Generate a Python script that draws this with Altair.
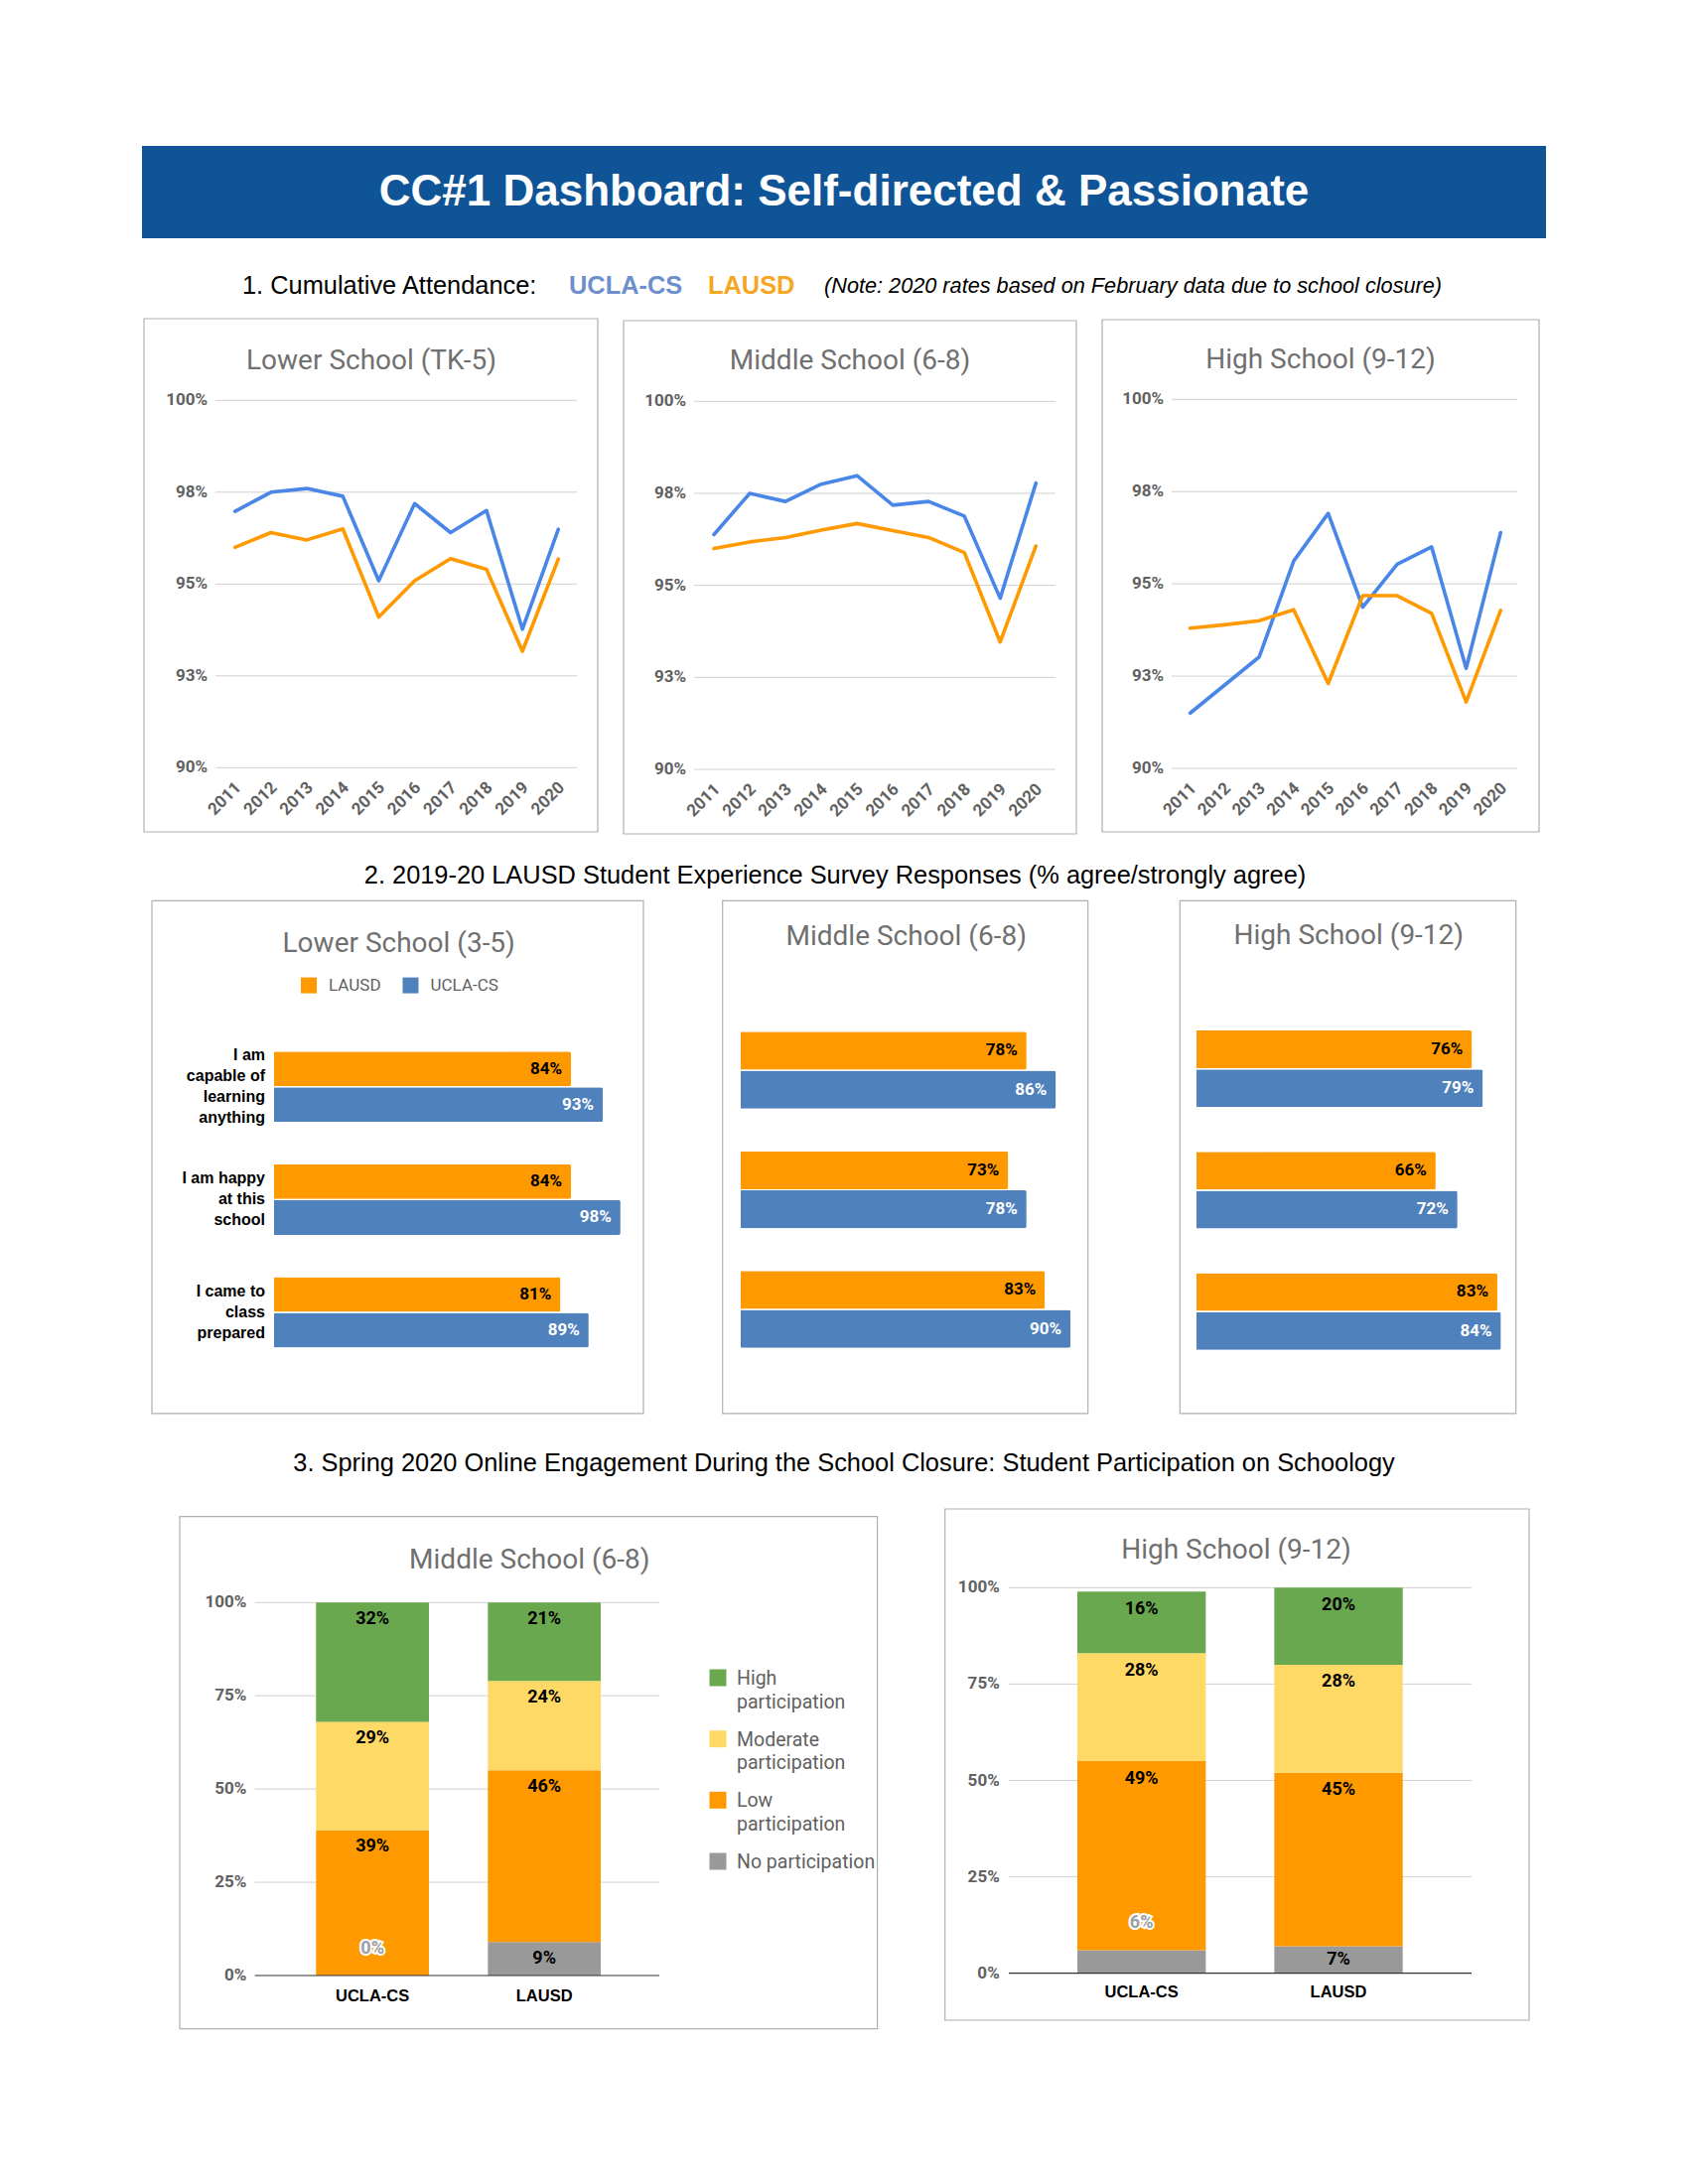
import textwrap
import altair as alt
import pandas as pd

# ---------------- data ----------------
YEARS = [2011, 2012, 2013, 2014, 2015, 2016, 2017, 2018, 2019, 2020]
LOWER_UCLA = [96.98, 97.5, 97.6, 97.39, 95.09, 97.19, 96.4, 97.0, 93.77, 96.49]
LOWER_LAUSD = [96.0, 96.4, 96.2, 96.5, 94.1, 95.09, 95.69, 95.4, 93.17, 95.68]
MIDDLE_UCLA = [96.38, 97.5, 97.28, 97.75, 97.98, 97.18, 97.28, 96.88, 94.65, 97.78]
MIDDLE_LAUSD = [96.0, 96.18, 96.3, 96.5, 96.68, 96.49, 96.3, 95.89, 93.46, 96.07]
HIGH_UCLA = [91.5, 92.26, 93.02, 95.62, 96.91, 94.37, 95.53, 96.0, 92.71, 96.39]
HIGH_LAUSD = [93.8, 93.89, 94.0, 94.3, 92.3, 94.68, 94.68, 94.2, 91.8, 94.28]
ATT_TICKS = [90, 92.5, 95, 97.5, 100]

SCHOOLS = ["LAUSD", "UCLA-CS"]
QUESTIONS = ["I am capable of learning anything", "I am happy at this school",
             "I came to class prepared"]
LS_LAUSD = [84, 84, 81]
LS_UCLA = [93, 98, 89]
MS_LAUSD = [78, 73, 83]
MS_UCLA = [86, 78, 90]
HS_LAUSD = [76, 66, 83]
HS_UCLA = [79, 72, 84]

GROUPS = ["UCLA-CS", "LAUSD"]
LEVELS = ["No participation", "Low participation", "Moderate participation", "High participation"]
MS_UCLA_PART = [0, 39, 29, 32]
MS_LAUSD_PART = [9, 46, 24, 21]
HS_UCLA_PART = [6, 49, 28, 16]
HS_LAUSD_PART = [7, 45, 28, 20]
PCT_TICKS = [0, 25, 50, 75, 100]

H1 = "CC#1 Dashboard: Self-directed & Passionate"
S1 = "1. Cumulative Attendance:"
S1_NOTE = "(Note: 2020 rates based on February data due to school closure)"
S2 = "2. 2019-20 LAUSD Student Experience Survey Responses (% agree/strongly agree)"
S3 = "3. Spring 2020 Online Engagement During the School Closure: Student Participation on Schoology"

# ---------------- style ----------------
BLUE_LINE = "#4a86e8"
ORANGE = "#ff9900"
BLUE_BAR = "#4f81bd"
SEG_COLORS = ["#999999", "#ff9900", "#ffd966", "#6aa84f"]
TITLE_GRAY = "#707070"
AXIS_GRAY = "#616161"
GRID = "#d0d0d0"
BORDER = "#b0b0b0"
BANNER = "#0f5496"
ROBOTO = "Roboto"
ARIAL = "Liberation Sans"
TITLE_SIZE = 28
HEAD_SIZE = 25.4

ONE = pd.DataFrame({"k": [0]})


def text_at(s, x, y, size, color="#000000", weight="normal", align="center",
            baseline="alphabetic", font=ROBOTO, style="normal"):
    return alt.Chart(ONE).mark_text(
        text=s, font=font, fontSize=size, fontWeight=weight, fontStyle=style,
        color=color, align=align, baseline=baseline
    ).encode(x=alt.value(x), y=alt.value(y))


def frame(x1, y1, x2, y2):
    return alt.Chart(ONE).mark_rect(
        fill="white", fillOpacity=0, stroke=BORDER, strokeWidth=1.2
    ).encode(x=alt.value(x1), x2=alt.value(x2), y=alt.value(y1), y2=alt.value(y2))


layers = []

# banner
layers.append(alt.Chart(ONE).mark_rect(color=BANNER).encode(
    x=alt.value(143), x2=alt.value(1557), y=alt.value(147), y2=alt.value(240)))
layers.append(text_at(H1, 850, 194, 44, "#ffffff", "bold", baseline="middle", font=ARIAL))

# section headings
layers.append(text_at(S1, 244, 288, HEAD_SIZE, align="left", baseline="middle", font=ARIAL))
layers.append(text_at("UCLA-CS", 573, 288, HEAD_SIZE, "#6d8fcc", "bold", align="left", baseline="middle", font=ARIAL))
layers.append(text_at("LAUSD", 713, 288, HEAD_SIZE, "#f5a623", "bold", align="left", baseline="middle", font=ARIAL))
layers.append(text_at(S1_NOTE, 830, 288, 21.7, align="left", baseline="middle", font=ARIAL, style="italic"))
layers.append(text_at(S2, 841, 882, HEAD_SIZE, baseline="middle", font=ARIAL))
layers.append(text_at(S3, 850, 1474, HEAD_SIZE, baseline="middle", font=ARIAL))

# ---------------- attendance line panels ----------------
LINE_PANELS = [
    dict(title="Lower School (TK-5)", ucla=LOWER_UCLA, lausd=LOWER_LAUSD, box=(145, 321, 602, 838),
         txy=(374, 372), xr=[236.7, 562.3], yr=[773.3, 403.3], grid=(217, 581), lab_x=209),
    dict(title="Middle School (6-8)", ucla=MIDDLE_UCLA, lausd=MIDDLE_LAUSD, box=(628, 323, 1084, 840),
         txy=(856, 372), xr=[719, 1043.3], yr=[775, 404.3], grid=(699, 1063), lab_x=691),
    dict(title="High School (9-12)", ucla=HIGH_UCLA, lausd=HIGH_LAUSD, box=(1110, 322, 1550, 838),
         txy=(1330, 371), xr=[1198.7, 1511.3], yr=[774, 402.3], grid=(1180, 1528), lab_x=1172),
]

for p in LINE_PANELS:
    layers.append(frame(*p["box"]))
    layers.append(text_at(p["title"], p["txy"][0], p["txy"][1], TITLE_SIZE, TITLE_GRAY))
    xs = alt.Scale(domain=[YEARS[0], YEARS[-1]], range=p["xr"], nice=False, zero=False)
    ys = alt.Scale(domain=[ATT_TICKS[0], ATT_TICKS[-1]], range=p["yr"], nice=False, zero=False)
    ticks = pd.DataFrame({"t": ATT_TICKS})
    layers.append(alt.Chart(ticks).mark_rule(color=GRID, strokeWidth=1).encode(
        y=alt.Y("t:Q", scale=ys, axis=None), x=alt.value(p["grid"][0]), x2=alt.value(p["grid"][1])))
    layers.append(alt.Chart(ticks).transform_calculate(lbl="format(datum.t, '.0f') + '%'").mark_text(
        font=ROBOTO, fontSize=17, fontWeight="bold", color=AXIS_GRAY, align="right", baseline="middle"
    ).encode(y=alt.Y("t:Q", scale=ys, axis=None), x=alt.value(p["lab_x"]), text="lbl:N"))
    layers.append(alt.Chart(pd.DataFrame({"year": YEARS})).mark_text(
        font=ROBOTO, fontSize=17, fontWeight="bold", color=AXIS_GRAY, align="right",
        baseline="middle", angle=315, dx=5
    ).encode(x=alt.X("year:Q", scale=xs, axis=None), y=alt.value(p["yr"][0] + 21), text="year:N"))
    long = pd.DataFrame({"year": YEARS * 2,
                         "school": ["UCLA-CS"] * len(YEARS) + ["LAUSD"] * len(YEARS),
                         "pct": p["ucla"] + p["lausd"]})
    for school, col in (("UCLA-CS", BLUE_LINE), ("LAUSD", ORANGE)):
        layers.append(alt.Chart(long).transform_filter(alt.datum.school == school).mark_line(
            color=col, strokeWidth=3.6, strokeJoin="round", strokeCap="round"
        ).encode(x=alt.X("year:Q", scale=xs, axis=None), y=alt.Y("pct:Q", scale=ys, axis=None)))

# ---------------- survey bar panels ----------------
BAR_PANELS = [
    dict(title="Lower School (3-5)", lausd=LS_LAUSD, ucla=LS_UCLA, box=(153, 907.4, 648, 1423.9),
         txy=(401.7, 959), xr=[276, 632], yr=[1059.3, 1357.5], pi=0.375, cats=True),
    dict(title="Middle School (6-8)", lausd=MS_LAUSD, ucla=MS_UCLA, box=(727.7, 907.4, 1095.7, 1423.9),
         txy=(912.7, 952.4), xr=[746, 1115], yr=[1039.2, 1357.8], pi=0.356, cats=False),
    dict(title="High School (9-12)", lausd=HS_LAUSD, ucla=HS_UCLA, box=(1188.3, 907.4, 1526.7, 1423.9),
         txy=(1358.3, 950.7), xr=[1205, 1570], yr=[1037.9, 1359.8], pi=0.367, cats=False),
]

CAT_LH = 21

for p in BAR_PANELS:
    layers.append(frame(*p["box"]))
    layers.append(text_at(p["title"], p["txy"][0], p["txy"][1], TITLE_SIZE, TITLE_GRAY))
    df = pd.DataFrame({"question": QUESTIONS * 2,
                       "school": ["LAUSD"] * 3 + ["UCLA-CS"] * 3,
                       "pct": p["lausd"] + p["ucla"]})
    ys = alt.Scale(type="band", domain=QUESTIONS, range=p["yr"], paddingInner=p["pi"], paddingOuter=0)
    yo = alt.Scale(type="band", domain=SCHOOLS, paddingInner=0.03, paddingOuter=0)
    xs = alt.Scale(domain=[0, 100], range=p["xr"], nice=False, zero=False)
    Y = alt.Y("question:N", scale=ys, axis=None)
    YO = alt.YOffset("school:N", scale=yo)
    X = alt.X("pct:Q", scale=xs, axis=None)
    layers.append(alt.Chart(df).mark_bar(cornerRadiusEnd=2).encode(
        y=Y, yOffset=YO, x=X,
        color=alt.Color("school:N", scale=alt.Scale(domain=SCHOOLS, range=[ORANGE, BLUE_BAR]), legend=None)))
    layers.append(alt.Chart(df).transform_calculate(lbl="datum.pct + '%'").mark_text(
        font=ROBOTO, fontSize=17, fontWeight="bold", align="right", baseline="middle", dx=-9
    ).encode(y=Y, yOffset=YO, x=X, text="lbl:N",
             color=alt.Color("school:N", scale=alt.Scale(domain=SCHOOLS, range=["#000000", "#ffffff"]),
                             legend=None)))
    if p["cats"]:
        for q in QUESTIONS:
            lines = textwrap.wrap(q, 10)
            cat = pd.DataFrame({"question": [q], "disp": ["\n".join(lines)]})
            layers.append(alt.Chart(cat).mark_text(
                font=ARIAL, fontSize=16, fontWeight="bold", color="#000000", align="right",
                baseline="middle", lineBreak="\n", lineHeight=CAT_LH,
                dy=-(len(lines) - 1) * CAT_LH / 2
            ).encode(y=Y, x=alt.value(267), text="disp:N"))
        leg = pd.DataFrame({"school": SCHOOLS})
        lx = alt.Scale(type="point", domain=SCHOOLS, range=[311, 413.5], padding=0)
        layers.append(alt.Chart(leg).mark_square(size=256, opacity=1).encode(
            x=alt.X("school:N", scale=lx, axis=None), y=alt.value(992.6),
            color=alt.Color("school:N", scale=alt.Scale(domain=SCHOOLS, range=[ORANGE, BLUE_BAR]),
                            legend=None)))
        layers.append(alt.Chart(leg).mark_text(
            font=ROBOTO, fontSize=17, color=AXIS_GRAY, align="left", baseline="middle", dx=20
        ).encode(x=alt.X("school:N", scale=lx, axis=None), y=alt.value(992.6), text="school:N"))

# ---------------- participation stacked panels ----------------
STACK_PANELS = [
    dict(title="Middle School (6-8)", ucla=MS_UCLA_PART, lausd=MS_LAUSD_PART,
         box=(181, 1527.7, 883.6, 2043.6), txy=(533.3, 1580), xr=[318.3, 605], pi=0.343,
         yr=[1990, 1614.3], grid=(256.7, 664), lab_x=248.3, xlab_y=2015.5, legend=True),
    dict(title="High School (9-12)", ucla=HS_UCLA_PART, lausd=HS_LAUSD_PART,
         box=(951.7, 1520, 1540, 2035), txy=(1245, 1570), xr=[1085, 1412.7], pi=0.348,
         yr=[1987.7, 1599.3], grid=(1016, 1482), lab_x=1006.7, xlab_y=2012, legend=False),
]

seg_scale = alt.Scale(domain=LEVELS, range=SEG_COLORS)

for p in STACK_PANELS:
    layers.append(frame(*p["box"]))
    layers.append(text_at(p["title"], p["txy"][0], p["txy"][1], TITLE_SIZE, TITLE_GRAY))
    rows = []
    for school, vals in ((GROUPS[0], p["ucla"]), (GROUPS[1], p["lausd"])):
        for i, (lvl, v) in enumerate(zip(LEVELS, vals)):
            rows.append({"school": school, "level": lvl, "ord": i, "pct": v})
    df = pd.DataFrame(rows)
    xs = alt.Scale(type="band", domain=GROUPS, range=p["xr"], paddingInner=p["pi"], paddingOuter=0)
    ys = alt.Scale(domain=[0, 100], range=p["yr"], nice=False, zero=False)
    X = alt.X("school:N", scale=xs, axis=None)
    ticks = pd.DataFrame({"t": PCT_TICKS})
    layers.append(alt.Chart(ticks).transform_filter("datum.t > 0").mark_rule(color=GRID, strokeWidth=1).encode(
        y=alt.Y("t:Q", scale=ys, axis=None), x=alt.value(p["grid"][0]), x2=alt.value(p["grid"][1])))
    layers.append(alt.Chart(ticks).transform_calculate(lbl="datum.t + '%'").mark_text(
        font=ROBOTO, fontSize=17, fontWeight="bold", color=AXIS_GRAY, align="right", baseline="middle"
    ).encode(y=alt.Y("t:Q", scale=ys, axis=None), x=alt.value(p["lab_x"]), text="lbl:N"))
    base = alt.Chart(df).transform_stack(
        stack="pct", groupby=["school"], as_=["y0", "y1"],
        sort=[alt.SortField("ord", order="ascending")])
    layers.append(base.mark_bar().encode(
        x=X, y=alt.Y("y0:Q", scale=ys, axis=None), y2="y1:Q",
        color=alt.Color("level:N", scale=seg_scale, legend=None)))
    layers.append(alt.Chart(ticks).transform_filter("datum.t == 0").mark_rule(color="#333333", strokeWidth=1.2).encode(
        y=alt.Y("t:Q", scale=ys, axis=None), x=alt.value(p["grid"][0]), x2=alt.value(p["grid"][1])))
    layers.append(base.transform_filter("datum.pct >= 7").transform_calculate(
        ly="datum.y1 - min(4.5, datum.pct / 2)", lbl="datum.pct + '%'").mark_text(
        font=ROBOTO, fontSize=18, fontWeight="bold", color="#000000", baseline="middle"
    ).encode(x=X, y=alt.Y("ly:Q", scale=ys, axis=None), text="lbl:N"))
    small = base.transform_filter("datum.pct < 7").transform_calculate(lbl="datum.pct + '%'")
    layers.append(small.mark_text(
        font=ROBOTO, fontSize=18, fontWeight="bold", color="#ffffff", stroke="#ffffff", strokeWidth=4,
        baseline="middle", dy=-27
    ).encode(x=X, y=alt.Y("y1:Q", scale=ys, axis=None), text="lbl:N"))
    layers.append(small.mark_text(
        font=ROBOTO, fontSize=18, fontWeight="bold", color="#9aa0a6", baseline="middle", dy=-27
    ).encode(x=X, y=alt.Y("y1:Q", scale=ys, axis=None), text="lbl:N"))
    layers.append(alt.Chart(pd.DataFrame({"school": GROUPS})).mark_text(
        font=ARIAL, fontSize=16.5, fontWeight="bold", color="#000000", baseline="alphabetic"
    ).encode(x=X, y=alt.value(p["xlab_y"]), text="school:N"))
    if p["legend"]:
        leg = pd.DataFrame({"level": LEVELS[::-1]})
        leg["disp"] = ["\n".join(textwrap.wrap(s, 16)) for s in leg["level"]]
        ly = alt.Scale(type="point", domain=LEVELS[::-1], range=[1690, 1875], padding=0)
        layers.append(alt.Chart(leg).mark_square(size=289, opacity=1).encode(
            x=alt.value(723), y=alt.Y("level:N", scale=ly, axis=None),
            color=alt.Color("level:N", scale=seg_scale, legend=None)))
        layers.append(alt.Chart(leg).mark_text(
            font=ROBOTO, fontSize=19.5, color=AXIS_GRAY, align="left", baseline="alphabetic",
            dy=7, lineBreak="\n", lineHeight=23.5
        ).encode(x=alt.value(742), y=alt.Y("level:N", scale=ly, axis=None), text="disp:N"))

chart = alt.layer(*layers).resolve_scale(
    x="independent", y="independent", color="independent", yOffset="independent"
).properties(
    width=1700, height=2200, padding=0, background="white",
    autosize=alt.AutoSizeParams(type="none")
).configure_view(strokeWidth=0)

chart.save("out.html", embed_options={"renderer": "svg", "actions": False})
